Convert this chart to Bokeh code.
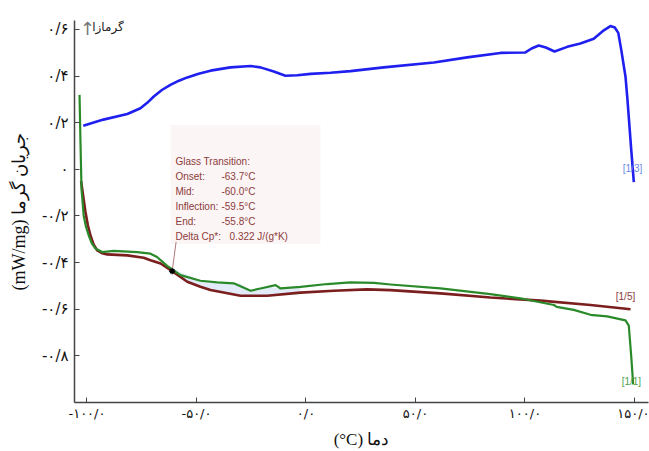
from bokeh.plotting import figure
from bokeh.models import Range1d, FixedTicker, Label, BoxAnnotation
from bokeh.core.properties import value
from bokeh.embed import file_html
from bokeh.resources import INLINE

# ---------------- data ----------------
blue_x = [-101.7, -92.5, -81.6, -75.6, -72.5, -69.5, -65.8, -61.9, -58.0, -54.2, -49.0, -43.6,
          -34.5, -25.3, -20.8, -14.7, -9.4, -4.0, 2.1, 11.2, 20.3, 35.5, 58.4, 73.6, 88.8,
          100.2, 103.0, 106.3, 109.5, 113.5, 119.3, 125.3, 131.4, 136.0, 139.0, 141.0, 142.6,
          144.0, 145.9, 146.8, 148.5, 149.7]
blue_y = [0.187, 0.213, 0.237, 0.262, 0.285, 0.312, 0.340, 0.362, 0.380, 0.394, 0.410, 0.423,
          0.437, 0.443, 0.437, 0.419, 0.401, 0.403, 0.409, 0.414, 0.421, 0.437, 0.458, 0.480, 0.499,
          0.501, 0.518, 0.531, 0.522, 0.505, 0.525, 0.539, 0.560, 0.596, 0.614, 0.608, 0.585,
          0.51, 0.397, 0.298, 0.085, -0.055]

green_x = [-103.4, -103.0, -102.5, -101.5, -100.5, -99.2, -97.8, -96.1, -93.1, -87.8, -77.1,
           -71.0, -68.0, -63.4, -57.3, -48.2, -40.5, -33.0, -25.3, -20.8, -13.9, -11.6, -2.5,
           9.7, 20.3, 31.0, 38.6, 61.4, 84.2, 99.4, 113.2, 114.5, 122.3, 129.9, 137.5, 145.9,
           147.4, 148.5, 149.4]
green_y = [0.319, 0.128, -0.085, -0.199, -0.245, -0.284, -0.318, -0.340, -0.355, -0.350, -0.355,
           -0.362, -0.376, -0.414, -0.454, -0.478, -0.485, -0.489, -0.521, -0.511, -0.497, -0.511, -0.504,
           -0.492, -0.485, -0.487, -0.494, -0.511, -0.535, -0.556, -0.582, -0.590, -0.603, -0.624,
           -0.631, -0.648, -0.670, -0.800, -0.922]

red_x = [-102.7, -100.7, -99.6, -98.4, -97.0, -95.3, -93.0, -90.8, -81.6, -74.1, -71.0, -66.4,
         -61.1, -54.2, -48.2, -43.6, -29.9, -17.7, -2.5, 12.7, 27.9, 38.6, 61.4, 84.2, 107.1,
         129.9, 148.2]
red_y = [-0.05, -0.183, -0.240, -0.284, -0.322, -0.348, -0.360, -0.365, -0.369, -0.379, -0.390,
         -0.404, -0.437, -0.482, -0.504, -0.518, -0.542, -0.542, -0.529, -0.521, -0.515, -0.518,
         -0.532, -0.550, -0.563, -0.582, -0.600]

shade_x = [-60.0, -48.2, -40.0, -30.0, -25.3, -17.7, -11.6, -2.5]
shade_lo = [-0.45, -0.504, -0.525, -0.542, -0.542, -0.542, -0.535, -0.529]
shade_hi = [-0.43, -0.478, -0.485, -0.489, -0.521, -0.505, -0.511, -0.504]

tg_x = [-61.1]
tg_y = [-0.437]

x_ticks = [-100, -50, 0, 50, 100, 150]
x_tick_labels = ["-۱۰۰/۰", "-۵۰/۰", "۰/۰", "۵۰/۰", "۱۰۰/۰", "۱۵۰/۰"]
y_ticks = [0.6, 0.4, 0.2, 0, -0.2, -0.4, -0.6, -0.8]
y_tick_labels = ["۰/۶", "۰/۴", "۰/۲", "۰", "-۰/۲", "-۰/۴", "-۰/۶", "-۰/۸"]

gt_names = ["Glass Transition:", "Onset:", "Mid:", "Inflection:", "End:", "Delta Cp*:"]
gt_values = ["", "-63.7°C", "-60.0°C", "-59.5°C", "-55.8°C", "0.322 J/(g*K)"]

curve_tags = ["[1/3]", "[1/5]", "[1/1]"]
tag_x = [149.1, 145.9, 148.6]
tag_y = [0.004, -0.545, -0.911]

x_title = "(°C) دما"
y_title = "(mW/mg) جریان گرما"
exo_text = "گرمازا"

# ---------------- figure ----------------
p = figure(width=649, height=451, output_backend="svg", toolbar_location=None,
           x_range=Range1d(-105.7, 156.4), y_range=Range1d(-1.0, 0.638),
           min_border_left=74, min_border_right=1, min_border_top=20, min_border_bottom=46)
p.outline_line_color = None
p.grid.visible = False
p.background_fill_color = "white"
p.border_fill_color = "white"

# annotation box (behind everything)
p.add_layout(BoxAnnotation(left=-61.8, right=6.6, bottom=-0.319, top=0.191,
                           fill_color="#fbf3f3", fill_alpha=0.8, line_color=None,
                           level="underlay"))

p.varea(x=shade_x, y1=shade_lo, y2=shade_hi, fill_color="#dfe9f6", fill_alpha=0.9)

p.line(blue_x, blue_y, line_color="#1f1ff0", line_width=2.6, line_join="round")
p.line(red_x, red_y, line_color="#7a1e1e", line_width=2.6, line_join="round")
p.line(green_x, green_y, line_color="#2a8a2a", line_width=2.2, line_join="round")

# leader line + marker
p.segment(x0=[-59.3], y0=[-0.311], x1=tg_x, y1=tg_y, line_color="#b07a7a", line_width=1)
p.scatter(tg_x, tg_y, marker="asterisk", size=6, line_color="black", line_width=1.5)

# glass transition text
gt_y0 = 0.035
gt_dy = -0.065
names_y = [gt_y0 + i * gt_dy for i in range(len(gt_names))]
p.text(x=[-59.6] * len(gt_names), y=names_y, text=gt_names,
       text_font=value("Liberation Sans"), text_font_size="10px",
       text_color="#8b3b3b", text_baseline="middle", text_align="left")
val_x = [-38.6, -38.6, -38.6, -38.6, -38.6, -34.9]
p.text(x=val_x, y=names_y, text=gt_values,
       text_font=value("Liberation Sans"), text_font_size="10px",
       text_color="#8b3b3b", text_baseline="middle", text_align="left")

# curve tags
p.text(x=tag_x, y=tag_y, text=curve_tags, text_font=value("Liberation Sans"),
       text_font_size="10px", text_color=["#6a8ae6", "#8b3b3b", "#4f9f4f"],
       text_baseline="middle", text_align="center")

# exothermic arrow label
p.add_layout(Label(x=-99.8, y=0.604, text="↑", text_font="DejaVu Sans", text_font_size="18px",
                   text_color="#777777", text_align="center", text_baseline="middle"))
p.add_layout(Label(x=-97.6, y=0.609, text=exo_text, text_font="DejaVu Sans", text_font_size="12px",
                   text_color="#222222", text_align="left", text_baseline="middle"))

# axes
p.xaxis.ticker = FixedTicker(ticks=x_ticks)
p.xaxis.major_label_overrides = dict(zip(x_ticks, x_tick_labels))
p.yaxis.ticker = FixedTicker(ticks=y_ticks)
p.yaxis.major_label_overrides = dict(zip(y_ticks, y_tick_labels))

for ax in (p.xaxis, p.yaxis):
    ax.axis_line_color = "#444444"
    ax.axis_line_width = 1.5
    ax.major_tick_line_color = "#444444"
    ax.major_tick_in = 5
    ax.major_tick_out = 0
    ax.minor_tick_line_color = None
    ax.major_label_text_font = "DejaVu Sans"
    ax.major_label_text_color = "#111111"
    ax.axis_label_text_font_style = "normal"
    ax.axis_label_text_color = "#111111"

p.xaxis.major_label_text_font_size = "13px"
p.xaxis.major_label_standoff = 3
p.xaxis.axis_label = x_title
p.xaxis.axis_label_text_font = "Liberation Serif"
p.xaxis.axis_label_text_font_size = "17px"
p.xaxis.axis_label_standoff = 6

p.yaxis.major_label_text_font_size = "15px"
p.yaxis.major_label_standoff = 6
p.yaxis.axis_label = y_title
p.yaxis.axis_label_text_font = "Liberation Serif"
p.yaxis.axis_label_text_font_size = "18px"
p.yaxis.axis_label_standoff = 10

open("out.html", "w").write(file_html(p, INLINE))
